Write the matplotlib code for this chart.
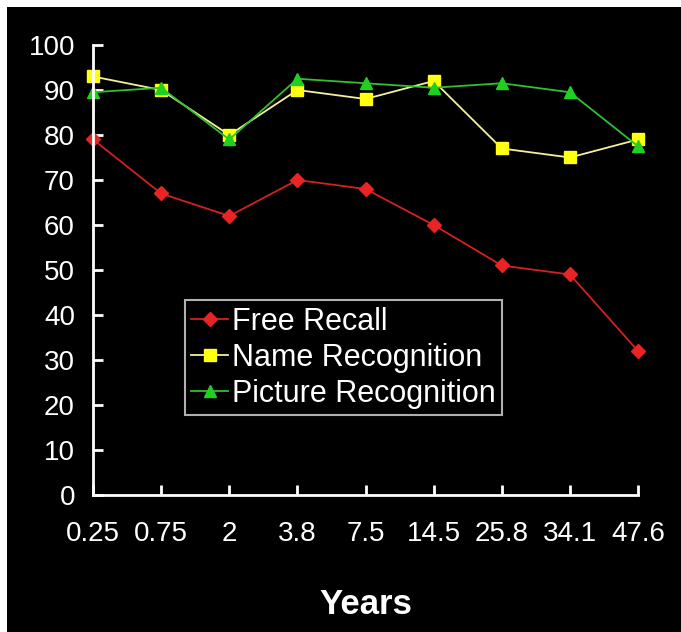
import matplotlib
matplotlib.use("Agg")
import matplotlib.pyplot as plt
from matplotlib.patches import Rectangle

years = ["0.25", "0.75", "2", "3.8", "7.5", "14.5", "25.8", "34.1", "47.6"]

free_recall = [79, 67, 62, 70, 68, 60, 51, 49, 32]
name_recognition = [93, 90, 80, 90, 88, 92, 77, 75, 79]
picture_recognition = [89.5, 90.5, 79, 92.5, 91.5, 90.5, 91.5, 89.5, 77.5]

y_ticks = list(range(0, 101, 10))

plt.rcParams["font.family"] = ["Liberation Sans", "DejaVu Sans"]

fig = plt.figure(figsize=(6.81, 6.32), dpi=100, facecolor="black")

# white strips along top and left edge of the original scan
fig.patches.append(Rectangle((0, 0.989), 1, 0.011, transform=fig.transFigure,
                             facecolor="white", edgecolor="none", zorder=10))
fig.patches.append(Rectangle((0, 0), 0.0105, 1, transform=fig.transFigure,
                             facecolor="white", edgecolor="none", zorder=10))

ax = fig.add_axes([0.1366, 0.2168, 0.8003, 0.712])
ax.set_facecolor("black")

x = list(range(len(years)))

ax.plot(x, free_recall, color="#d42020", lw=1.3, marker="D",
        ms=7, mfc="#e82525", mec="#e82525", label="Free Recall", clip_on=False)
ax.plot(x, name_recognition, color="#f4f0a0", lw=1.3, marker="s",
        ms=8, mfc="#ffff10", mec="#ffff10", label="Name Recognition", clip_on=False)
ax.plot(x, picture_recognition, color="#30c030", lw=1.3, marker="^",
        ms=8.5, mfc="#20d020", mec="#20d020", label="Picture Recognition", clip_on=False)

ax.set_xlim(0, len(years) - 1)
ax.set_ylim(0, 100)

ax.set_xticks(x)
ax.set_xticklabels(years)
ax.set_yticks(y_ticks)

for side in ["top", "right"]:
    ax.spines[side].set_visible(False)
for side in ["left", "bottom"]:
    ax.spines[side].set_color("white")
    ax.spines[side].set_linewidth(2)

ax.tick_params(axis="both", direction="in", colors="white",
               length=7, width=2, labelsize=20)
ax.tick_params(axis="y", pad=13)
ax.tick_params(axis="x", pad=19)

ax.set_xlabel("Years", color="white", fontsize=25,
              fontweight="bold", labelpad=29)

leg = ax.legend(loc="lower left", bbox_to_anchor=(0.169, 0.178),
                fontsize=22, frameon=True, fancybox=False,
                handlelength=1.2, handletextpad=0.15,
                borderpad=0.2, labelspacing=0.2,
                borderaxespad=0)
leg.get_frame().set_facecolor("black")
leg.get_frame().set_edgecolor("#dddddd")
leg.get_frame().set_linewidth(1.5)
for t in leg.get_texts():
    t.set_color("white")

fig.savefig("out.png", dpi=100, facecolor="black")
